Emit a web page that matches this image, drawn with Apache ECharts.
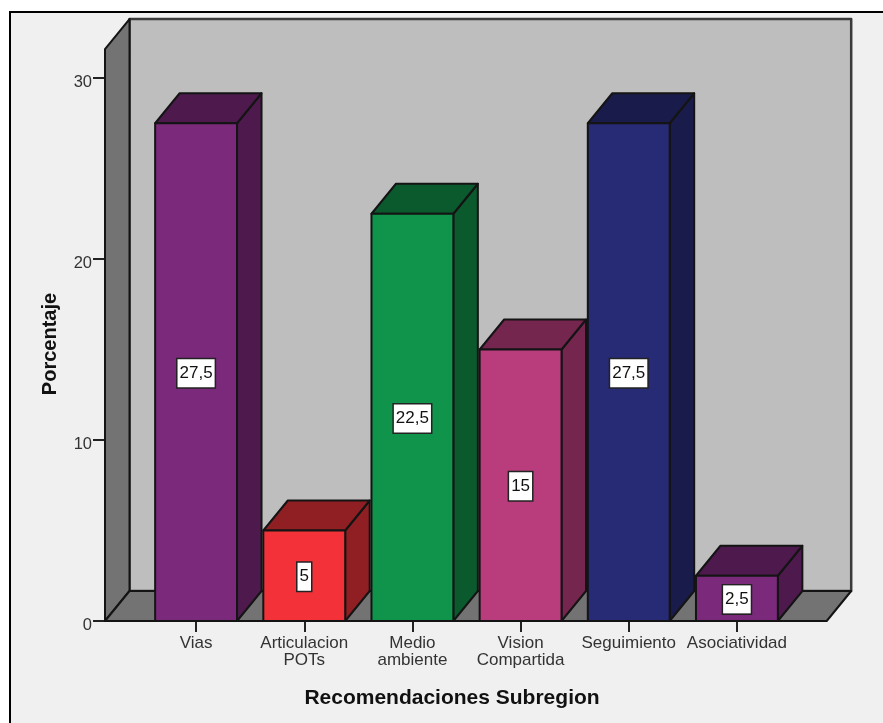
<!DOCTYPE html>
<html><head><meta charset="utf-8">
<style>html,body{margin:0;padding:0;background:#fff}#c{width:883px;height:723px}</style>
<script src="https://cdn.jsdelivr.net/npm/echarts@6/dist/echarts.min.js"></script>
</head><body><div id="c"></div>
<script>
const categories = ['Vias','Articulacion\nPOTs','Medio\nambiente','Vision\nCompartida','Seguimiento','Asociatividad'];
const values = [27.5,5,22.5,15,27.5,2.5];
const frontColors = ['#7b2a7b','#f23238','#10934a','#b93c7c','#272a74','#7b2a7b'];
const sideColors = ['#4e1a4e','#8f1f22','#0a5a2d','#74264e','#191c4a','#4e1a4e'];
const yTicks = {min:0,max:30,interval:10};
const xTitle = 'Recomendaciones Subregion';
const yTitle = 'Porcentaje';

const DX = 24.5, DY = 30, BAR_FRAC = 0.757, FONT = 'Liberation Sans';
const LINE = '#141414';
const WALL_TOP = 31.6;

function poly(points, fill, w, stroke){
  return {type:'polygon', shape:{points}, style:{fill, stroke:stroke||LINE, lineWidth:w||2, lineJoin:'round'}};
}

const chart = echarts.init(document.getElementById('c'), null, {renderer:'canvas'});
chart.setOption({
  animation:false,
  backgroundColor:'#ffffff',
  graphic:[
    {type:'rect', z:-10, shape:{x:9,y:12,width:874,height:711}, style:{fill:'#f0f0f0'}},
    {type:'polyline', z:-9, shape:{points:[[10,723],[10,12],[883,12]]}, style:{fill:null, stroke:'#000', lineWidth:2}}
  ],
  grid:{left:142, right:92, top:78, bottom:102},
  xAxis:{
    type:'category', data:categories, boundaryGap:true,
    axisLine:{show:false},
    axisTick:{show:true, alignWithLabel:true, length:11, lineStyle:{color:'#222', width:2}},
    axisLabel:{color:'#333', fontFamily:FONT, fontSize:17, lineHeight:17, margin:14, interval:0},
    name:xTitle, nameLocation:'middle', nameGap:67,
    nameTextStyle:{color:'#111', fontFamily:FONT, fontWeight:'bold', fontSize:21, padding:[0,29,0,0]}
  },
  yAxis:{
    type:'value', min:yTicks.min, max:yTicks.max, interval:yTicks.interval, offset:37,
    axisLine:{show:false},
    splitLine:{show:false},
    axisTick:{show:true, length:12, lineStyle:{color:'#222', width:2}},
    axisLabel:{color:'#333', fontFamily:FONT, fontSize:16.5, margin:13, verticalAlign:'top', lineHeight:8},
    name:yTitle, nameLocation:'middle', nameGap:45, nameRotate:90,
    nameTextStyle:{color:'#111', fontFamily:FONT, fontWeight:'bold', fontSize:20, padding:[0,0,0,11]}
  },
  series:[
    {
      type:'custom', z:1, silent:true, data:[0], clip:false,
      renderItem(params, api){
        const band = api.size([1,0])[0];
        const lo = api.coord([0,0]), hi = api.coord([categories.length-1,0]);
        const yTop = api.coord([0,WALL_TOP])[1];
        const xL = lo[0]-band*0.842, xR = hi[0]+band*0.83, yB = lo[1];
        const bxL = xL+DX, bxR = xR+DX, byB = yB-DY, byT = yTop-DY;
        return {type:'group', children:[
          poly([[bxL,byT],[bxR,byT],[bxR,byB],[bxL,byB]],'#bebebe',2.5,'#3a3a3a'),
          poly([[xL,yTop],[bxL,byT],[bxL,byB],[xL,yB]],'#737373',2),
          poly([[xL,yB],[bxL,byB],[bxR,byB],[xR,yB]],'#737373',2)
        ]};
      }
    },
    {
      type:'custom', z:2, silent:true, clip:false,
      data:values.map((v,i)=>[i,v]), encode:{x:0,y:1},
      renderItem(params, api){
        const i = api.value(0), v = api.value(1);
        const w = api.size([1,0])[0]*BAR_FRAC;
        const base = api.coord([i,0]), top = api.coord([i,v]), mid = api.coord([i,v/2]);
        const x0 = base[0]-w/2, x1 = base[0]+w/2, y0 = base[1], y1 = top[1];
        const f = frontColors[i], s = sideColors[i];
        return {type:'group', children:[
          poly([[x1,y0],[x1+DX,y0-DY],[x1+DX,y1-DY],[x1,y1]],s),
          poly([[x0,y1],[x0+DX,y1-DY],[x1+DX,y1-DY],[x1,y1]],s),
          poly([[x0,y0],[x1,y0],[x1,y1],[x0,y1]],f),
          {type:'text', z2:5, x:mid[0], y:mid[1]+1, style:{
            text:String(v).replace('.',','), align:'center', verticalAlign:'middle',
            fill:'#111', font:'17px "'+FONT+'"', backgroundColor:'#fff',
            borderColor:'#222', borderWidth:1.5, padding:[6,2,5,2]
          }}
        ]};
      }
    }
  ]
});
</script></body></html>
